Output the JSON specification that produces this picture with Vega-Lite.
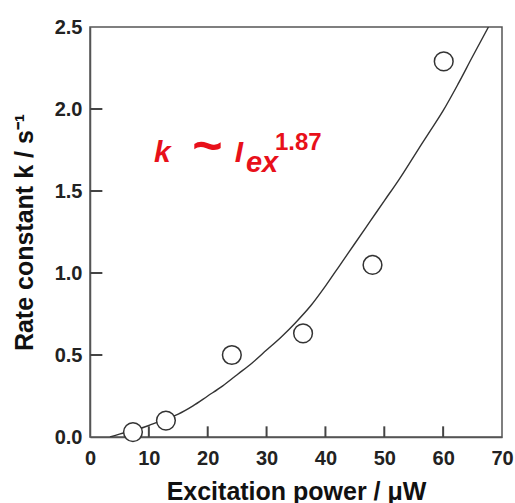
{
  "$schema": "https://vega.github.io/schema/vega-lite/v6.json",
  "autosize": "none",
  "padding": {"left": 90, "top": 27, "right": 13, "bottom": 66},
  "width": 412,
  "height": 410,
  "background": "white",
  "config": {
    "view": {"stroke": "#555", "strokeWidth": 1.5},
    "font": "Liberation Sans",
    "axis": {
      "grid": false,
      "ticks": false,
      "domainColor": "#555",
      "domainWidth": 1.5,
      "labelFont": "Liberation Sans",
      "labelFontSize": 20,
      "labelFontWeight": "bold",
      "labelColor": "#222",
      "labelFlush": false,
      "labelOverlap": false,
      "titleFont": "Liberation Sans",
      "titleFontSize": 25,
      "titleFontWeight": "bold",
      "titleColor": "#111"
    },
    "axisX": {"labelPadding": 11, "titlePadding": 11},
    "axisY": {"labelPadding": 8, "titlePadding": 17}
  },
  "datasets": {
    "points": [
      {"power": 7.3, "k": 0.03},
      {"power": 12.9, "k": 0.1},
      {"power": 24.1, "k": 0.5},
      {"power": 36.2, "k": 0.632},
      {"power": 48.0, "k": 1.049},
      {"power": 60.1, "k": 2.29}
    ],
    "fit": [
      {"power": 3.4, "k": 0.0},
      {"power": 5, "k": 0.018},
      {"power": 7.5, "k": 0.04},
      {"power": 10, "k": 0.07},
      {"power": 12.5, "k": 0.105},
      {"power": 15, "k": 0.14},
      {"power": 17.5, "k": 0.19},
      {"power": 20, "k": 0.25},
      {"power": 22.5, "k": 0.31},
      {"power": 25, "k": 0.38},
      {"power": 27.5, "k": 0.45},
      {"power": 30, "k": 0.53},
      {"power": 32.5, "k": 0.61},
      {"power": 35, "k": 0.7},
      {"power": 37.5, "k": 0.8},
      {"power": 40, "k": 0.92},
      {"power": 42.5, "k": 1.05},
      {"power": 45, "k": 1.18},
      {"power": 47.5, "k": 1.31},
      {"power": 50, "k": 1.44},
      {"power": 52.5, "k": 1.57},
      {"power": 55, "k": 1.71},
      {"power": 57.5, "k": 1.85},
      {"power": 60, "k": 1.99},
      {"power": 62.5, "k": 2.15},
      {"power": 65, "k": 2.32},
      {"power": 67.7, "k": 2.5}
    ],
    "xticks": [{"t": 10}, {"t": 20}, {"t": 30}, {"t": 40}, {"t": 50}, {"t": 60}],
    "yticks": [{"t": 0.5}, {"t": 1.0}, {"t": 1.5}, {"t": 2.0}]
  },
  "layer": [
    {
      "data": {"name": "fit"},
      "mark": {"type": "line", "color": "#333", "strokeWidth": 1.4, "interpolate": "monotone", "clip": true},
      "encoding": {
        "x": {
          "field": "power", "type": "quantitative",
          "scale": {"domain": [0, 70], "nice": false},
          "axis": {"title": "Excitation power / μW", "values": [0, 10, 20, 30, 40, 50, 60, 70]}
        },
        "y": {
          "field": "k", "type": "quantitative",
          "scale": {"domain": [0, 2.5], "nice": false},
          "axis": {"title": "Rate constant k / s⁻¹", "values": [0, 0.5, 1, 1.5, 2, 2.5], "format": ".1f"}
        }
      }
    },
    {
      "data": {"name": "xticks"},
      "mark": {"type": "rule", "color": "#444", "strokeWidth": 2},
      "encoding": {
        "x": {"field": "t", "type": "quantitative"},
        "y": {"datum": 0},
        "y2": {"datum": 0.065}
      }
    },
    {
      "data": {"name": "yticks"},
      "mark": {"type": "rule", "color": "#444", "strokeWidth": 2},
      "encoding": {
        "y": {"field": "t", "type": "quantitative"},
        "x": {"datum": 0},
        "x2": {"datum": 2.1}
      }
    },
    {
      "data": {"name": "points"},
      "mark": {"type": "point", "shape": "circle", "size": 350, "filled": false, "fill": "white", "fillOpacity": 1, "stroke": "#333", "strokeWidth": 1.5, "opacity": 1},
      "encoding": {
        "x": {"field": "power", "type": "quantitative"},
        "y": {"field": "k", "type": "quantitative"}
      }
    },
    {
      "data": {"values": [{"note": "k"}]},
      "mark": {"type": "text", "text": "k", "font": "Liberation Sans", "fontSize": 30, "fontWeight": "bold", "fontStyle": "italic", "color": "#e8101a", "align": "left", "baseline": "alphabetic"},
      "encoding": {"x": {"datum": 10.87}, "y": {"datum": 1.677}}
    },
    {
      "data": {"values": [{"note": "tilde"}]},
      "mark": {"type": "text", "text": "~", "font": "Liberation Sans", "fontSize": 52, "fontWeight": "bold", "color": "#e8101a", "align": "center", "baseline": "alphabetic"},
      "encoding": {"x": {"datum": 19.96}, "y": {"datum": 1.671}}
    },
    {
      "data": {"values": [{"note": "I"}]},
      "mark": {"type": "text", "text": "I", "font": "Liberation Sans", "fontSize": 30, "fontWeight": "bold", "fontStyle": "italic", "color": "#e8101a", "align": "left", "baseline": "alphabetic"},
      "encoding": {"x": {"datum": 24.6}, "y": {"datum": 1.677}}
    },
    {
      "data": {"values": [{"note": "ex"}]},
      "mark": {"type": "text", "text": "ex", "font": "Liberation Sans", "fontSize": 29, "fontWeight": "bold", "fontStyle": "italic", "color": "#e8101a", "align": "left", "baseline": "alphabetic"},
      "encoding": {"x": {"datum": 26.5}, "y": {"datum": 1.616}}
    },
    {
      "data": {"values": [{"note": "exp"}]},
      "mark": {"type": "text", "text": "1.87", "font": "Liberation Sans", "fontSize": 24, "fontWeight": "bold", "color": "#e8101a", "align": "left", "baseline": "alphabetic"},
      "encoding": {"x": {"datum": 31.43}, "y": {"datum": 1.75}}
    }
  ]
}
